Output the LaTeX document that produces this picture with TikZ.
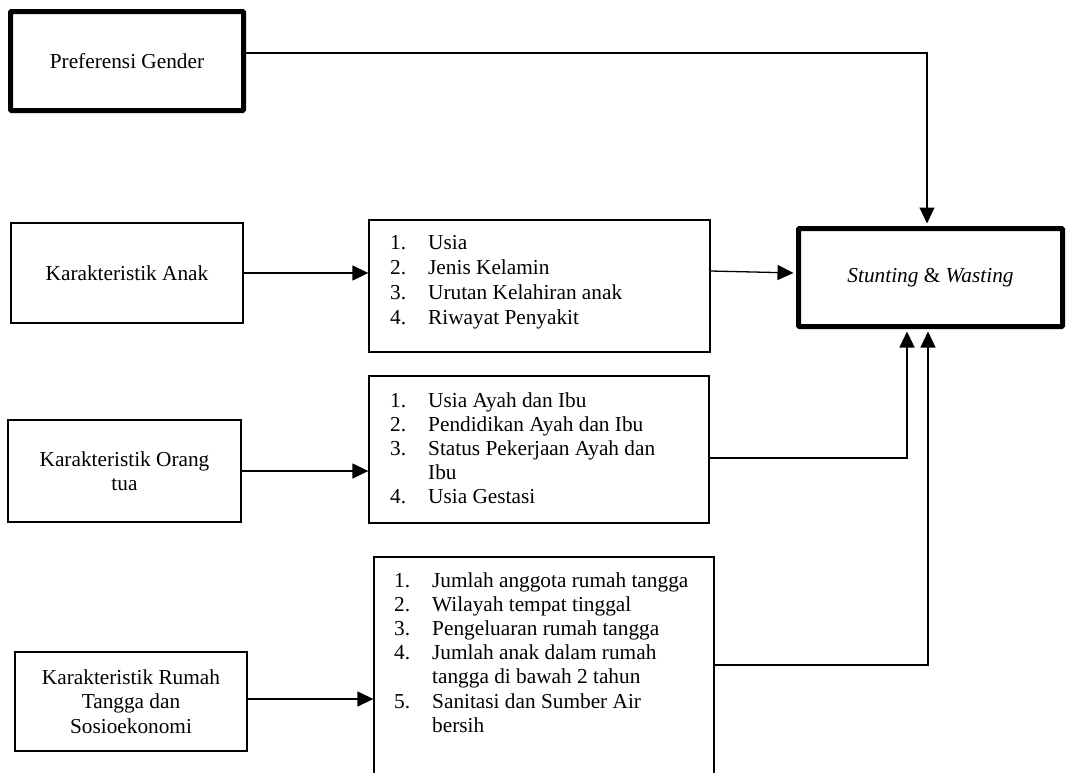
\documentclass[tikz,border=0pt]{standalone}
\usepackage{fontspec}
\setmainfont{Liberation Serif}
\usetikzlibrary{arrows.meta}
\begin{document}
\begin{tikzpicture}[x=1pt,y=-1pt,
  thinbox/.style={draw, line width=1.3pt, inner sep=0pt, font=\fontsize{21.3}{24.3}\selectfont, align=center},
  thickbox/.style={draw, line width=5pt, inner sep=0pt, rounded corners=1pt, font=\fontsize{21.3}{24.3}\selectfont, align=center},
  listtxt/.style={inner sep=0pt, anchor=base west},
  arr/.style={line width=1.3pt, -{Triangle[length=16pt,width=15pt]}},
  gap/.style={shorten >=2.5pt}]
\useasboundingbox (0,0) rectangle (1070,772);
\clip (0,0) rectangle (1070,772);

% boxes
\node[thickbox, minimum width=233pt, minimum height=99pt] (pref) at (127,61) {\raisebox{-2pt}{Preferensi Gender}};
\node[thickbox, minimum width=264pt, minimum height=98pt] (sw) at (930.5,277.5) {\raisebox{-4pt}{\textit{Stunting} \& \textit{Wasting}}};
\node[thinbox, minimum width=232pt, minimum height=100pt] (anak) at (127,273) {Karakteristik Anak};
\node[thinbox, minimum width=233pt, minimum height=102pt] (ortu) at (124.5,471) {Karakteristik Orang\\tua};
\node[thinbox, minimum width=232pt, minimum height=99pt] (rt) at (131,701.5) {Karakteristik Rumah\\Tangga dan\\Sosioekonomi};
\node[thinbox, minimum width=341pt, minimum height=132pt] (b1) at (539.5,286) {};
\node[thinbox, minimum width=340pt, minimum height=147pt] (b2) at (539,449.5) {};
\node[thinbox, minimum width=340pt, minimum height=243pt] (b3) at (544,678.5) {};

% list texts
\node[listtxt, font=\fontsize{21.3}{25}\selectfont] (t1) at (390,249) {%
  \begin{tabular}[t]{@{}p{38pt}@{}l@{}}
  1. & Usia\\
  2. & Jenis Kelamin\\
  3. & Urutan Kelahiran anak\\
  4. & Riwayat Penyakit
  \end{tabular}};
\node[listtxt, font=\fontsize{21.3}{24}\selectfont] (t2) at (390,407) {%
  \begin{tabular}[t]{@{}p{38pt}@{}l@{}}
  1. & Usia Ayah dan Ibu\\
  2. & Pendidikan Ayah dan Ibu\\
  3. & Status Pekerjaan Ayah dan\\
     & Ibu\\
  4. & Usia Gestasi
  \end{tabular}};
\node[listtxt, font=\fontsize{21.3}{24.2}\selectfont] (t3) at (394,587) {%
  \begin{tabular}[t]{@{}p{38pt}@{}l@{}}
  1. & Jumlah anggota rumah tangga\\
  2. & Wilayah tempat tinggal\\
  3. & Pengeluaran rumah tangga\\
  4. & Jumlah anak dalam rumah\\
     & tangga di bawah 2 tahun\\
  5. & Sanitasi dan Sumber Air\\
     & bersih
  \end{tabular}};

% connectors
\draw[arr, gap] (pref.east |- 0,53) -| ([xshift=-3.5pt]sw.north);
\draw[arr] (anak.east) -- (b1.west |- anak.east);
\draw[arr, gap] (b1.east |- 0,271) -- (sw.west |- 0,273);
\draw[arr] (ortu.east) -- (b2.west |- ortu.east);
\draw[arr, gap] (b2.east |- 0,458) -| ([xshift=-23.5pt]sw.south);
\draw[arr, gap] (b3.east |- 0,665) -| ([xshift=-2.5pt]sw.south);
\draw[arr] (rt.east |- 0,699) -- (b3.west |- 0,699);
\end{tikzpicture}
\end{document}
